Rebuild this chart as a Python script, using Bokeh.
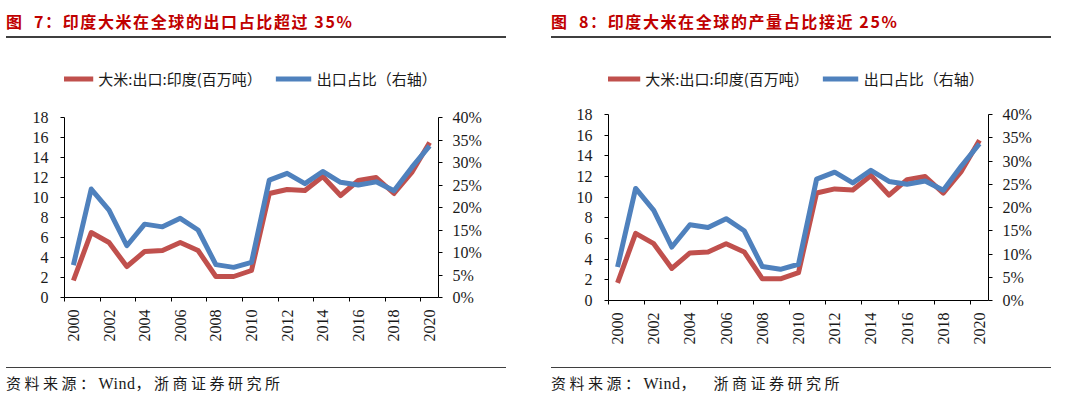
import math
from bokeh.plotting import figure
from bokeh.models import (Range1d, LinearAxis, FixedTicker, NumeralTickFormatter,
                          Legend, LegendItem, Div)
from bokeh.layouts import row, column
from bokeh.core.properties import value
from bokeh.embed import file_html
from bokeh.resources import INLINE

# ---------------- data ----------------
years = list(range(2000, 2021))
exports = [1.7, 6.5, 5.5, 3.1, 4.6, 4.7, 5.5, 4.7, 2.1, 2.1, 2.7,
           10.4, 10.8, 10.7, 12.1, 10.2, 11.7, 12.0, 10.4, 12.5, 15.5]
share = [0.072, 0.241, 0.194, 0.115, 0.163, 0.157, 0.176, 0.150, 0.073, 0.067, 0.078,
         0.261, 0.276, 0.253, 0.280, 0.256, 0.250, 0.257, 0.237, 0.289, 0.337]
year_ticks = list(range(2000, 2021, 2))
year_bounds = [y - 0.5 for y in year_ticks]
left_ticks = list(range(0, 19, 2))
right_ticks = [0, 0.05, 0.10, 0.15, 0.20, 0.25, 0.30, 0.35, 0.40]

series_names = ["大米:出口:印度(百万吨）", "出口占比（右轴）"]
titles = ["图&nbsp;&nbsp;7：印度大米在全球的出口占比超过 35%",
          "图&nbsp;&nbsp;8：印度大米在全球的产量占比接近 25%"]
sources = ['资料来源：<span style="letter-spacing:0.5px;font-size:16px">Wind</span>，浙商证券研究所',
           '资料来源：<span style="letter-spacing:0.5px;font-size:16px">Wind</span>，&nbsp;&nbsp;浙商证券研究所']

RED = "#C0504D"
BLUE = "#4F81BD"
TXT = "#1a1a1a"
TICK_FONT = "Liberation Serif"


def make_panel(title, source, fig_w, border_l, frame_w, border_t, frame_h, fig_h, shift):
    border_r = fig_w - border_l - frame_w
    border_b = fig_h - border_t - frame_h
    p = figure(width=fig_w, height=fig_h,
               x_range=Range1d(1999.5, 2020.5), y_range=Range1d(0, 18),
               output_backend="svg", toolbar_location=None,
               x_axis_location=None, y_axis_location=None,
               min_border_left=border_l, min_border_right=border_r,
               min_border_top=border_t, min_border_bottom=border_b)
    p.extra_y_ranges = {"share": Range1d(0, 0.40)}
    p.outline_line_color = None
    p.grid.visible = False
    p.background_fill_color = "white"
    p.border_fill_color = "white"

    xa = LinearAxis(ticker=FixedTicker(ticks=year_ticks, minor_ticks=year_bounds))
    xa.major_tick_out = 0
    xa.major_tick_in = 0
    xa.minor_tick_out = 4
    xa.minor_tick_in = 0
    xa.major_label_orientation = math.pi / 2
    xa.major_label_standoff = 8
    p.add_layout(xa, "below")

    ya = LinearAxis(ticker=FixedTicker(ticks=left_ticks))
    ya.major_label_standoff = 12
    p.add_layout(ya, "left")

    yb = LinearAxis(y_range_name="share", ticker=FixedTicker(ticks=right_ticks),
                    formatter=NumeralTickFormatter(format="0%"))
    yb.major_label_standoff = 10
    p.add_layout(yb, "right")

    for ax in (xa, ya, yb):
        ax.axis_line_color = "black"
        ax.axis_line_width = 1
        ax.major_tick_line_color = "black"
        ax.minor_tick_line_color = "black" if ax is xa else None
        ax.major_label_text_font = TICK_FONT
        ax.major_label_text_font_size = "16px"
        ax.major_label_text_color = TXT
    for ax in (ya, yb):
        ax.major_tick_out = 4
        ax.major_tick_in = 0

    p.line(years, exports, line_color=RED, line_width=5, line_join="round")
    p.line(years, share, line_color=BLUE, line_width=5, line_join="round",
           y_range_name="share")

    # legend strip above the plot (its own lines lie outside its visible range);
    # its frame is aligned with the chart frame below, so the legend must fit in it
    pl = figure(width=fig_w, height=62, output_backend="svg", toolbar_location=None,
                x_axis_location=None, y_axis_location=None,
                x_range=Range1d(0, 1), y_range=Range1d(0, 1),
                min_border_left=border_l, min_border_right=border_r,
                min_border_top=18, min_border_bottom=0)
    pl.outline_line_color = None
    pl.grid.visible = False
    pl.background_fill_color = "white"
    pl.border_fill_color = "white"
    lr1 = pl.line(years, exports, line_color=RED, line_width=5)
    lr2 = pl.line(years, share, line_color=BLUE, line_width=5)
    legend = Legend(items=[LegendItem(label=value(series_names[0]), renderers=[lr1]),
                           LegendItem(label=value(series_names[1]), renderers=[lr2])],
                    orientation="horizontal", location="center",
                    glyph_width=36, glyph_height=14, label_standoff=5, spacing=14,
                    padding=0, margin=0, border_line_color=None,
                    background_fill_alpha=0, label_height=20, label_width=128,
                    label_text_font="Noto Sans CJK SC", label_text_font_size="15px",
                    label_text_color=TXT)
    pl.add_layout(legend, "center")

    tdiv = Div(text=(f'<div style="margin-left:{shift}px;width:500px;height:38px;'
                     f'box-sizing:border-box;padding-top:9px;'
                     f'border-bottom:2px solid #3f3f3f;color:#C00000;'
                     f"font-family:'Noto Sans CJK SC';font-weight:bold;font-size:16px;"
                     f'line-height:24px;letter-spacing:1.6px;white-space:nowrap;">{title}</div>'),
               width=fig_w, height=38, margin=(0, 0, 0, 0))
    sdiv = Div(text=(f'<div style="margin-left:{shift}px;width:500px;'
                     f'border-top:1.5px solid #3f3f3f;color:{TXT};'
                     f"font-family:'Liberation Serif','Noto Sans CJK SC';font-size:15px;"
                     f'line-height:20px;letter-spacing:3.5px;padding-top:6px;'
                     f'white-space:nowrap;">{source}</div>'),
               width=fig_w, height=30, margin=(0, 0, 0, 0))
    return column(tdiv, pl, p, sdiv, spacing=0)


panel1 = make_panel(titles[0], sources[0], fig_w=545, border_l=64, frame_w=374,
                    border_t=17, frame_h=180, fig_h=267, shift=6)
panel2 = make_panel(titles[1], sources[1], fig_w=535, border_l=63, frame_w=380,
                    border_t=14, frame_h=186, fig_h=267, shift=6)

layout = row(panel1, panel2, spacing=0)

open("out.html", "w").write(file_html(layout, INLINE))
